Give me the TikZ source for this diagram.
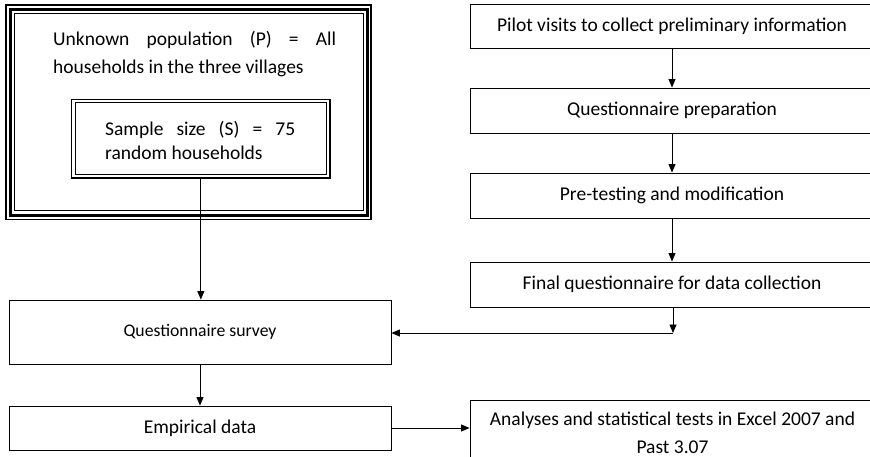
\documentclass[tikz,border=0pt]{standalone}
\usepackage{fontspec}
\setmainfont{Carlito}
\usetikzlibrary{arrows.meta}
\tikzset{
  flowbox/.style={draw=black, line width=0.9pt, inner sep=0pt, anchor=center,
    font=\fontsize{19.5}{28}\selectfont},
  txt/.style={inner sep=0pt, font=\fontsize{19.5}{28}\selectfont},
  arr/.style={-{Triangle[width=7pt,length=8.5pt]}, line width=0.9pt},
}
\begin{document}
\begin{tikzpicture}[x=1pt,y=-1pt]
\useasboundingbox (0,0) rectangle (870,457);
\clip (0,0) rectangle (870,457);

% population box (thin-thick-thin)
\draw[line width=1.5pt] (5.8,5.2) rectangle (370.8,219.3);
\node[draw, line width=2.7pt, minimum width=357pt, minimum height=205.6pt, inner sep=0pt] (pop) at (188.8,112.5) {};
\draw[line width=1pt] (14.5,13.3) rectangle (363.3,211);
\node[txt, anchor=base west] (pop1) at (53,45.7) {\makebox[283pt][s]{Unknown population (P) = All}};
\node[txt, anchor=base west] (pop2) at (53,74) {households in the three villages};

% sample box (double line)
\node[draw, line width=1.1pt, minimum width=258.3pt, minimum height=78.8pt, inner sep=0pt] (sample) at (200.85,138.6) {};
\draw[line width=1pt] (75,102.3) rectangle (326.7,175);
\node[txt, anchor=base west] (samp1) at (105,136) {\makebox[190pt][s]{Sample size (S) = 75}};
\node[txt, anchor=base west] (samp2) at (105,160) {random households};

% right column
\node[flowbox, minimum width=404pt, minimum height=44pt] (pilot) at (672,26) {Pilot visits to collect preliminary information};
\node[flowbox, minimum width=404pt, minimum height=45pt] (prep) at (672,110.5) {Questionnaire preparation};
\node[flowbox, minimum width=404pt, minimum height=45pt] (pretest) at (672,195.5) {Pre-testing and modification};
\node[flowbox, minimum width=404pt, minimum height=45pt] (final) at (672,284.5) {Final questionnaire for data collection};
\node[flowbox, minimum width=404pt, minimum height=70pt] (analyses) at (672,435) {};
\node[txt, anchor=base] (an1) at (672.5,425) {Analyses and statistical tests in Excel 2007 and};
\node[txt, anchor=base] (an2) at (672.5,453) {Past 3.07};

% left column
\node[flowbox, minimum width=382pt, minimum height=64pt, font=\fontsize{17.7}{24}\selectfont] (survey) at (200,332) {Questionnaire survey};
\node[flowbox, minimum width=382pt, minimum height=44pt] (empirical) at (200,428) {Empirical data};

% connectors
\draw[arr] (pilot.south) -- (prep.north);
\draw[arr] (prep.south) -- (pretest.north);
\draw[arr] (pretest.south) -- (final.north);
\coordinate (corner) at (673,333);
\draw[arr] (final.south -| corner) -- (corner);
\draw[arr] (corner) -- (corner -| survey.east);
\draw[arr] (sample.south) -- (sample.south |- survey.north);
\draw[arr] (survey.south) -- (empirical.north);
\draw[arr] (empirical.east) -- (empirical.east -| analyses.west);
\end{tikzpicture}
\end{document}
